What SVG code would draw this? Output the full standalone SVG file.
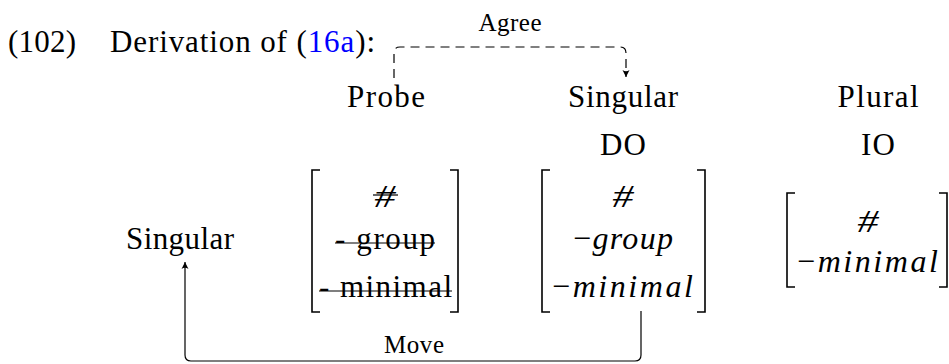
<svg xmlns="http://www.w3.org/2000/svg" width="949" height="364" viewBox="0 0 949 364">
<style>
text{font-family:"Liberation Serif","Times New Roman",serif;fill:#000}
.t{font-size:31px}
.m{font-size:32px}
.s{font-size:25px}
.h{font-size:32px;font-style:italic}
.c{text-anchor:middle}
.it{font-style:italic}
.br{fill:none;stroke:#000;stroke-width:1.6}
.st{stroke:#000;stroke-width:1.2}
.cn{fill:none;stroke:#000;stroke-width:1.2}
.dash{stroke-dasharray:9 6}
.link{fill:#0000ff}
</style>
<defs>
<marker id="ah" viewBox="-8 -4 9 8" refX="0" refY="0" markerWidth="9" markerHeight="8" markerUnits="userSpaceOnUse" orient="auto">
<path d="M0,0 L-7,-3.5 Q-4.5,0 -7,3.5 Z" fill="#000"/>
</marker>
</defs>

<g id="example-label">
<text class="t" x="8" y="52" textLength="68" lengthAdjust="spacing">(102)</text>
<text class="t" x="110" y="52" textLength="265" lengthAdjust="spacing">Derivation of (<tspan class="link">16a</tspan>):</text>
</g>

<g id="probe">
<text class="t c" x="386" y="107" textLength="78" lengthAdjust="spacing">Probe</text>
<path class="br" d="M320,170 H312 V312 H320 M450,170 H458 V312 H450"/>
<text class="h c" x="385" y="207" textLength="21" lengthAdjust="spacingAndGlyphs">#</text>
<line class="st" x1="373" y1="195" x2="398" y2="195"/>
<text class="t c" x="385" y="249" textLength="100" lengthAdjust="spacing">- group</text>
<line class="st" x1="335" y1="243" x2="435" y2="243"/>
<text class="t c" x="385.5" y="297" textLength="133" lengthAdjust="spacing">- minimal</text>
<line class="st" x1="319" y1="291" x2="452" y2="291"/>
</g>

<g id="do">
<text class="t c" x="623" y="107" textLength="110" lengthAdjust="spacing">Singular</text>
<text class="t c" x="623" y="155" textLength="46" lengthAdjust="spacing">DO</text>
<path class="br" d="M550,170 H542 V312 H550 M697,170 H705 V312 H697"/>
<text class="h c" x="623" y="207" textLength="21" lengthAdjust="spacingAndGlyphs">#</text>
<text class="m c" x="623" y="249" textLength="100" lengthAdjust="spacing">−<tspan class="it">group</tspan></text>
<text class="m c" x="622.5" y="297" textLength="141" lengthAdjust="spacing">−<tspan class="it">minimal</tspan></text>
</g>

<g id="io">
<text class="t c" x="878" y="107" textLength="81" lengthAdjust="spacing">Plural</text>
<text class="t c" x="878" y="155" textLength="34" lengthAdjust="spacing">IO</text>
<path class="br" d="M795,193 H787 V287 H795 M939,193 H947 V287 H939"/>
<text class="h c" x="868" y="232" textLength="21" lengthAdjust="spacingAndGlyphs">#</text>
<text class="m c" x="867.5" y="272" textLength="141" lengthAdjust="spacing">−<tspan class="it">minimal</tspan></text>
</g>

<g id="singular-target">
<text class="t c" x="180" y="249" textLength="108" lengthAdjust="spacing">Singular</text>
</g>

<g id="connectors">
<path id="agree" class="cn dash" d="M394,78 V53 Q394,47 400,47 H620 Q626,47 626,53 V77" marker-end="url(#ah)"/>
<text class="s c" x="510" y="31" textLength="63" lengthAdjust="spacing">Agree</text>
<path id="move" class="cn" d="M641,311 V355 Q641,361 635,361 H191 Q185,361 185,355 V262" marker-end="url(#ah)"/>
<text class="s c" x="414" y="353" textLength="60" lengthAdjust="spacing">Move</text>
</g>
</svg>
